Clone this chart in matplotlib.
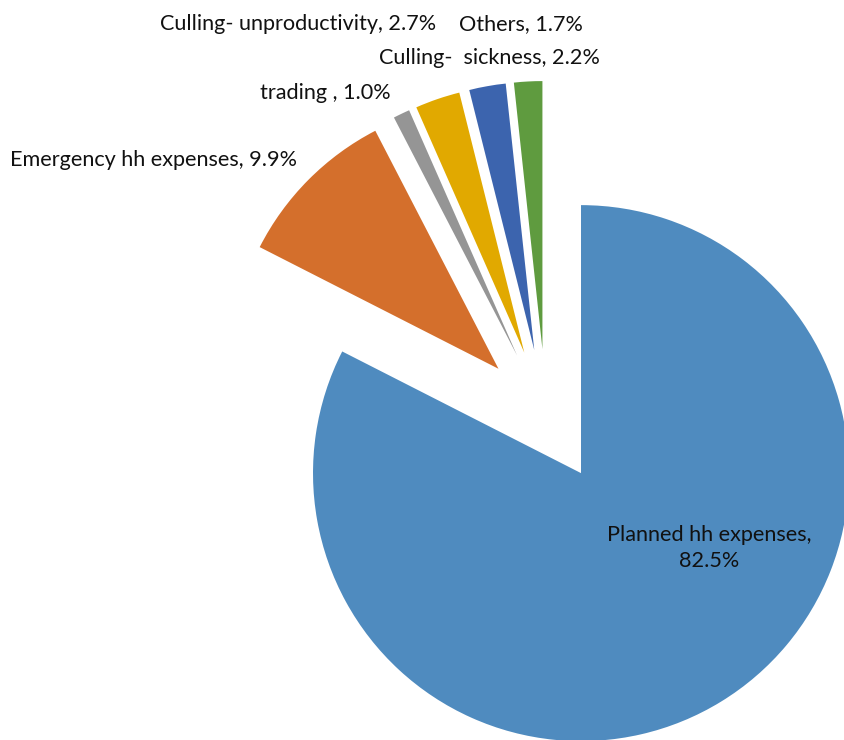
import matplotlib
matplotlib.use("Agg")
import matplotlib.pyplot as plt

# Household expense categories and their shares (%)
categories = ["Planned hh expenses", "Emergency hh expenses", "trading ",
              "Culling- unproductivity", "Culling-  sickness", "Others"]
shares = [82.5, 9.9, 1.0, 2.7, 2.2, 1.7]
colors = ["#4F8BBF", "#D46F2C", "#959595", "#E1A900", "#3C64AE", "#5F9B3F"]

W, H = 844, 740
fig = plt.figure(figsize=(W / 100, H / 100), dpi=100)
ax = fig.add_axes([0, 0, 1, 1])

center = (546, H - 416)
radius = 268
# pie's explode offset is in data units, so scale it by the radius
explode = [0.25 * radius] * len(shares)
ax.pie(shares, colors=colors, startangle=90, counterclock=False,
       explode=explode, center=center, radius=radius,
       wedgeprops=dict(linewidth=0), frame=True)
ax.set_xlim(0, W)
ax.set_ylim(0, H)
ax.set_aspect("equal")
ax.axis("off")

font = dict(family=["Lato", "DejaVu Sans"], fontsize=15.6, color="#111111")

def label(i):
    return f"{categories[i]}, {shares[i]:.1f}%"

def put(x, y_top, text, ha="left", **kw):
    ax.text(x, H - y_top, text, ha=ha, va="center", **font, **kw)

put(160, 24, label(3))
put(583, 24, label(5), ha="right")
put(600, 58, label(4), ha="right")
put(260, 93, label(2))
put(10, 160, label(1))
ax.text(709, H - 548, f"{categories[0]},\n{shares[0]:.1f}%", ha="center",
        va="center", linespacing=1.35, **font)

fig.savefig("out.png", dpi=100)
